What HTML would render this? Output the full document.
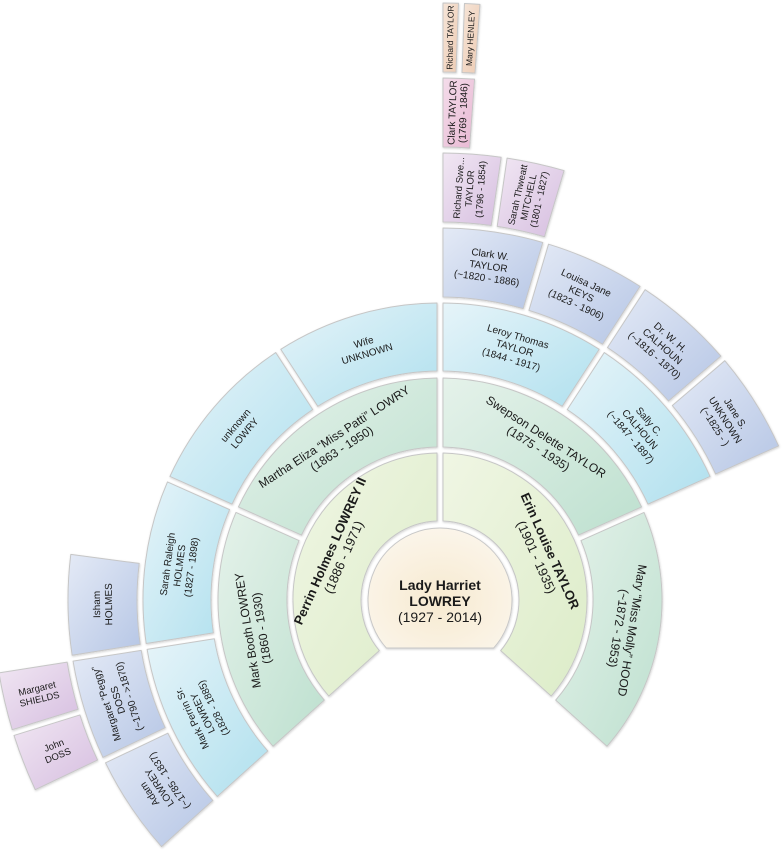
<!DOCTYPE html>
<html><head><meta charset="utf-8">
<style>
html,body{margin:0;padding:0;background:#fff;}
svg{display:block;font-family:"Liberation Sans",sans-serif;}
text{fill:#1a1a1a;text-anchor:middle;}
.c{font-size:14px}
.r1{font-size:13px}
.r2{font-size:12px}
.r3{font-size:10px}
.r4{font-size:10px}
.r5{font-size:9.5px}
.r6{font-size:10px}
.r7{font-size:8.5px}
.b{font-weight:bold}
</style></head><body>
<svg id="s" width="784" height="861" viewBox="0 0 784 861" xmlns="http://www.w3.org/2000/svg">
<defs>
<filter id="sh" x="-10%" y="-10%" width="120%" height="120%"><feDropShadow dx="0.5" dy="1" stdDeviation="1" flood-color="#000" flood-opacity="0.18"/></filter>
<radialGradient id="gc" cx="0.5" cy="0.6" r="0.6"><stop offset="0" stop-color="#f7ead0"/><stop offset="1" stop-color="#fbf5ea"/></radialGradient>
<linearGradient id="g1" x1="0" y1="0" x2="1" y2="1"><stop offset="0" stop-color="#f0f6e4"/><stop offset="1" stop-color="#dcecc8"/></linearGradient>
<linearGradient id="g2" x1="0" y1="0" x2="1" y2="1"><stop offset="0" stop-color="#e5f2ea"/><stop offset="1" stop-color="#bde0cf"/></linearGradient>
<linearGradient id="g3" x1="0" y1="0" x2="1" y2="1"><stop offset="0" stop-color="#e6f4f9"/><stop offset="1" stop-color="#b0e0ee"/></linearGradient>
<linearGradient id="g4" x1="0" y1="0" x2="1" y2="1"><stop offset="0" stop-color="#e4eaf6"/><stop offset="1" stop-color="#b6c6e5"/></linearGradient>
<linearGradient id="g5" x1="0" y1="0" x2="1" y2="1"><stop offset="0" stop-color="#f1e7f3"/><stop offset="1" stop-color="#d6bee0"/></linearGradient>
<linearGradient id="g6" x1="0" y1="0" x2="1" y2="1"><stop offset="0" stop-color="#f4dcea"/><stop offset="1" stop-color="#e8b8d3"/></linearGradient>
<linearGradient id="g7" x1="0" y1="0" x2="1" y2="1"><stop offset="0" stop-color="#f6e5d8"/><stop offset="1" stop-color="#edcbb3"/></linearGradient>
</defs>
<g id="shapes" filter="url(#sh)">
<path d="M386.3,648 A72,72 0 1 1 493.7,648 Z" fill="url(#gc)" stroke="#c8c8c8" stroke-width="1"/>
</g>
<g id="labels">
<text class="c" x="440" y="601"><tspan class="b" x="440" dy="-11">Lady Harriet</tspan><tspan class="b" x="440" dy="16">LOWREY</tspan><tspan x="440" dy="16">(1927 - 2014)</tspan></text>

<text id="t1" class="r1"><tspan class="b" x="0" dy="-3">Perrin Holmes LOWREY II</tspan><tspan x="0" dy="15">(1886 - 1971)</tspan></text>
<text id="t2" class="r1"><tspan class="b" x="0" dy="-3">Erin Louise TAYLOR</tspan><tspan x="0" dy="15">(1901 - 1935)</tspan></text>

<text id="t3" class="r2"><tspan x="0" dy="-3">Mark Booth LOWREY</tspan><tspan x="0" dy="14">(1860 - 1930)</tspan></text>
<text id="t4" class="r2"><tspan x="0" dy="-3">Martha Eliza “Miss Patti” LOWRY</tspan><tspan x="0" dy="14">(1863 - 1950)</tspan></text>
<text id="t5" class="r2"><tspan x="0" dy="-3">Swepson Delette TAYLOR</tspan><tspan x="0" dy="14">(1875 - 1935)</tspan></text>
<text id="t6" class="r2"><tspan x="0" dy="-3">Mary “Miss Molly” HOOD</tspan><tspan x="0" dy="14">(~1872 - 1953)</tspan></text>

<text id="t7" class="r3"><tspan x="0" dy="-8.5">Mark Perrin Sr.</tspan><tspan x="0" dy="12">LOWREY</tspan><tspan x="0" dy="12">(1828 - 1885)</tspan></text>
<text id="t8" class="r3"><tspan x="0" dy="-8.5">Sarah Raleigh</tspan><tspan x="0" dy="12">HOLMES</tspan><tspan x="0" dy="12">(1827 - 1898)</tspan></text>
<text id="t9" class="r3"><tspan x="0" dy="-2.5">unknown</tspan><tspan x="0" dy="12">LOWRY</tspan></text>
<text id="t10" class="r3"><tspan x="0" dy="-2.5">Wife</tspan><tspan x="0" dy="12">UNKNOWN</tspan></text>
<text id="t11" class="r3"><tspan x="0" dy="-8.5">Leroy Thomas</tspan><tspan x="0" dy="12">TAYLOR</tspan><tspan x="0" dy="12">(1844 - 1917)</tspan></text>
<text id="t12" class="r3"><tspan x="0" dy="-8.5">Sally C.</tspan><tspan x="0" dy="12">CALHOUN</tspan><tspan x="0" dy="12">(~1847 - 1897)</tspan></text>

<text id="t13" class="r4"><tspan x="0" dy="-8.5">Adam</tspan><tspan x="0" dy="12">LOWREY</tspan><tspan x="0" dy="12">(~1785 - 1837)</tspan></text>
<text id="t14" class="r4"><tspan x="0" dy="-8.5">Margaret “Peggy”</tspan><tspan x="0" dy="12">DOSS</tspan><tspan x="0" dy="12">(~1790 - &gt;1870)</tspan></text>
<text id="t15" class="r4"><tspan x="0" dy="-2.5">Isham</tspan><tspan x="0" dy="12">HOLMES</tspan></text>
<text id="t16" class="r4"><tspan x="0" dy="-8.5">Clark W.</tspan><tspan x="0" dy="12">TAYLOR</tspan><tspan x="0" dy="12">(~1820 - 1886)</tspan></text>
<text id="t17" class="r4"><tspan x="0" dy="-8.5">Louisa Jane</tspan><tspan x="0" dy="12">KEYS</tspan><tspan x="0" dy="12">(1823 - 1906)</tspan></text>
<text id="t18" class="r4"><tspan x="0" dy="-8.5">Dr. W. H.</tspan><tspan x="0" dy="12">CALHOUN</tspan><tspan x="0" dy="12">(~1816 - 1870)</tspan></text>
<text id="t19" class="r4"><tspan x="0" dy="-8.5">Jane S.</tspan><tspan x="0" dy="12">UNKNOWN</tspan><tspan x="0" dy="12">(~1825 - )</tspan></text>

<text id="t20" class="r5"><tspan x="0" dy="-2.2">John</tspan><tspan x="0" dy="11">DOSS</tspan></text>
<text id="t21" class="r5"><tspan x="0" dy="-2.2">Margaret</tspan><tspan x="0" dy="11">SHIELDS</tspan></text>
<text id="t22" class="r5"><tspan x="0" dy="-7.7">Richard Swe...</tspan><tspan x="0" dy="11">TAYLOR</tspan><tspan x="0" dy="11">(1796 - 1854)</tspan></text>
<text id="t23" class="r5"><tspan x="0" dy="-7.7">Sarah Thweatt</tspan><tspan x="0" dy="11">MITCHELL</tspan><tspan x="0" dy="11">(1801 - 1827)</tspan></text>

<text id="t24" class="r6"><tspan x="0" dy="-2">Clark TAYLOR</tspan><tspan x="0" dy="11">(1769 - 1846)</tspan></text>
<text id="t25" class="r7"><tspan x="0" dy="3">Richard TAYLOR</tspan></text>
<text id="t26" class="r7"><tspan x="0" dy="3">Mary HENLEY</tspan></text>
</g>
</svg>
<script>
(function(){
var cx=440,cy=600,G=3;
var R=[null,[79,147],[153,222],[229,297],[303,372],[378,447],[453,522],[528,597]];
var N=[
[1,1,-132,0],[2,1,0,132],
[3,2,-132,-66],[4,2,-66,0],[5,2,0,66],[6,2,66,132],
[7,3,-132,-99],[8,3,-99,-66],[9,3,-66,-33],[10,3,-33,0],[11,3,0,33],[12,3,33,66],
[13,4,-132,-115.5],[14,4,-115.5,-99],[15,4,-99,-82.5],[16,4,0,16.5],[17,4,16.5,33],[18,4,33,49.5],[19,4,49.5,66],
[20,5,-115.5,-107.25],[21,5,-107.25,-99],[22,5,0,8.25],[23,5,8.25,16.5],
[24,6,0,4.125],[25,7,0,2.0625],[26,7,2.0625,4.125]
];
function P(r,a){a=a*Math.PI/180;return (cx+r*Math.sin(a)).toFixed(2)+","+(cy-r*Math.cos(a)).toFixed(2);}
var sh=document.getElementById("shapes"),ns="http://www.w3.org/2000/svg";
N.forEach(function(n){
 var ri=R[n[1]][0],ro=R[n[1]][1],a0=n[2],a1=n[3];
 var di=Math.asin(G/ri)*180/Math.PI,dO=Math.asin(G/ro)*180/Math.PI;
 var lg=(a1-a0)>180?1:0;
 var d="M"+P(ro,a0+dO)+" A"+ro+","+ro+" 0 "+lg+" 1 "+P(ro,a1-dO)+" L"+P(ri,a1-di)+" A"+ri+","+ri+" 0 "+lg+" 0 "+P(ri,a0+di)+" Z";
 var p=document.createElementNS(ns,"path");
 p.setAttribute("d",d);p.setAttribute("fill","url(#g"+n[1]+")");
 p.setAttribute("stroke","#c6c6c6");p.setAttribute("stroke-width","1");p.setAttribute("stroke-linejoin","round");
 sh.appendChild(p);
 var rm=(ri+ro)/2,am=(a0+a1)/2,rot;
 if(n[1]<=4){rot=am;}else{rot=am-90;if(rot<-90)rot+=180;if(rot>90)rot-=180;}
 var a=am*Math.PI/180,x=cx+rm*Math.sin(a),y=cy-rm*Math.cos(a);
 var t=document.getElementById("t"+n[0]);
 if(t)t.setAttribute("transform","translate("+x.toFixed(2)+","+y.toFixed(2)+") rotate("+rot.toFixed(2)+")");
});
})();
</script>
</body></html>
